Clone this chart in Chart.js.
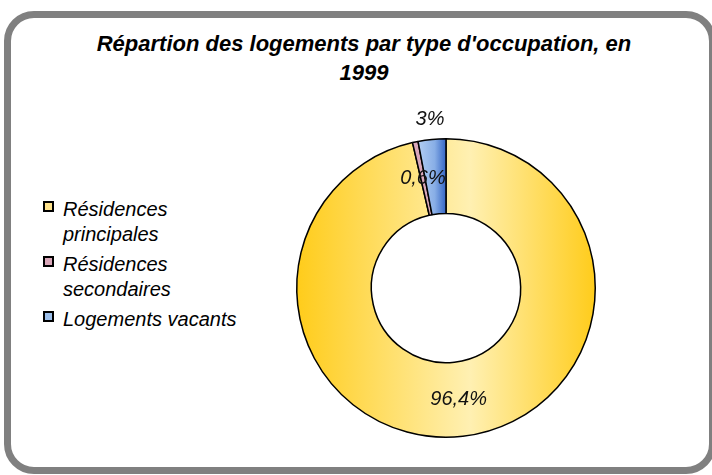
<!DOCTYPE html>
<html>
<head>
<meta charset="utf-8">
<script src="https://cdn.jsdelivr.net/npm/chart.js@4.4.0/dist/chart.umd.min.js"></script>
<style>
  html, body { margin: 0; padding: 0; background: #fff; overflow: hidden; }
  body { width: 712px; height: 475px; position: relative; font-family: "Liberation Sans", Arial, sans-serif; }
  #frame { position: absolute; left: 4px; top: 11px; width: 712px; height: 463px; box-sizing: border-box;
           border: 7px solid #808080; border-radius: 30px; }
  #title { position: absolute; left: 64px; width: 600px; top: 29px; text-align: center;
           font: italic bold 22px/29px "Liberation Sans", Arial, sans-serif; color: #000; }
  #legend { position: absolute; left: 43px; top: 197px; }
  .item { position: relative; padding-left: 20px; margin-bottom: 5px;
          font: italic 20px/25px "Liberation Sans", Arial, sans-serif; color: #000; white-space: nowrap; }
  .box { position: absolute; left: 0; top: 4px; width: 11px; height: 11px; box-sizing: border-box; border: 2px solid #000; }
  canvas { position: absolute; left: 0; top: 0; }
</style>
</head>
<body>
<div id="frame"></div>
<div id="title">Répartion des logements par type d'occupation, en<br>1999</div>
<div id="legend"></div>
<canvas id="chart" width="712" height="475"></canvas>
<script>
var categories = [['Résidences', 'principales'], ['Résidences', 'secondaires'], ['Logements vacants']];
var values = [96.4, 0.6, 3];
var swatches = ['#FFE38C', '#D9A7B9', '#9CBFEA'];

function fmt(v){
    return String(v).replace('.', ',') + '%';
}

// Excel-like gradients: gold dark-light-dark across the ring, blue light to dark on its slice
function sliceFill(context){
    var chart = context.chart;
    var area = chart.chartArea;
    if(!area) return swatches[context.dataIndex];
    var cx = (area.left + area.right) / 2;
    var r = Math.min(area.width, area.height) / 2;
    var ctx = chart.ctx;
    var g;
    if(context.dataIndex === 0){
        g = ctx.createLinearGradient(cx - r, 0, cx + r, 0);
        g.addColorStop(0, '#FFCC1A');
        g.addColorStop(0.58, '#FFF0B2');
        g.addColorStop(1, '#FFCC1A');
        return g;
    }
    if(context.dataIndex === 2){
        var total = values.reduce(function(a, b){ return a + b; }, 0);
        var before = values[0] + values[1];
        var a = before / total * Math.PI * 2;
        var x0 = cx + Math.sin(a) * r;
        g = ctx.createLinearGradient(x0, 0, cx, 0);
        g.addColorStop(0, '#B2CEF3');
        g.addColorStop(0.6, '#88AEE6');
        g.addColorStop(1, '#3566C4');
        return g;
    }
    return swatches[context.dataIndex];
}

var pctLabels = {
    id: 'pctLabels',
    afterDatasetsDraw: function(chart){
        var ctx = chart.ctx;
        var meta = chart.getDatasetMeta(0);
        ctx.save();
        ctx.font = 'italic 20px "Liberation Sans", Arial, sans-serif';
        ctx.fillStyle = '#111';
        ctx.textAlign = 'center';
        ctx.textBaseline = 'middle';
        meta.data.forEach(function(arc, i){
            var p = arc.getProps(['x', 'y', 'startAngle', 'endAngle', 'innerRadius', 'outerRadius']);
            var mid = (p.startAngle + p.endAngle) / 2;
            // the last small slice gets its label pushed outside, like the original
            var r = i === values.length - 1 ? p.outerRadius + 20 : (p.innerRadius + p.outerRadius) / 2;
            ctx.fillText(fmt(values[i]), p.x + Math.cos(mid) * r, p.y + Math.sin(mid) * r);
        });
        ctx.restore();
    }
};

var chart = new Chart(document.getElementById('chart').getContext('2d'), {
    type: 'doughnut',
    data: {
        labels: categories,
        datasets: [{
            data: values,
            backgroundColor: sliceFill,
            borderColor: '#000',
            borderWidth: 1.5
        }]
    },
    options: {
        responsive: false,
        animation: false,
        cutout: '50%',
        layout: { padding: { left: 296, right: 116, top: 138, bottom: 37 } },
        plugins: {
            legend: { display: false },
            tooltip: { enabled: false }
        }
    },
    plugins: [pctLabels]
});

var legend = document.getElementById('legend');
chart.data.labels.forEach(function(lab, i){
    var item = document.createElement('div');
    item.className = 'item';
    var box = document.createElement('span');
    box.className = 'box';
    box.style.background = swatches[i];
    item.appendChild(box);
    var txt = document.createElement('span');
    txt.innerHTML = [].concat(lab).join('<br>');
    item.appendChild(txt);
    legend.appendChild(item);
});
</script>
</body>
</html>
